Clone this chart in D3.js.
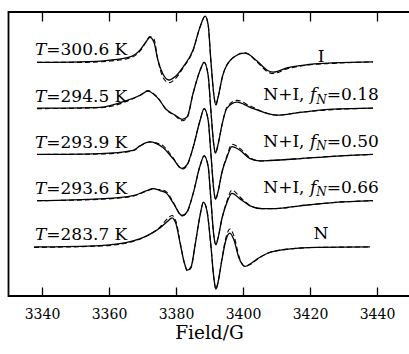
<!DOCTYPE html>
<html>
<head>
<meta charset="utf-8">
<script src="https://cdn.jsdelivr.net/npm/d3@7"></script>
<style>
  body { margin: 0; background: #fff; }
  text { font-family: "DejaVu Serif", serif; fill: #000; }
</style>
</head>
<body>
<div id="chart"></div>
<script>
// EPR spectra, [field (G), measured, simulated], baseline of each at 0
const specI = [
  [3338.5, -0.01, -0.01], [3351.3, 0.00, -0.01], [3360.3, 0.04, 0.02],
  [3366.3, 0.11, 0.09], [3369.3, 0.26, 0.24], [3371.0, 0.43, 0.43],
  [3372.2, 0.53, 0.55], [3373.4, 0.43, 0.50], [3374.6, 0.04, 0.04],
  [3376.1, -0.26, -0.33], [3377.9, -0.39, -0.45], [3379.7, -0.32, -0.37],
  [3382.1, -0.11, -0.13], [3385.1, 0.26, 0.25], [3387.2, 0.76, 0.76],
  [3388.7, 0.99, 0.99], [3389.6, 0.80, 0.80], [3390.4, 0.04, 0.04],
  [3391.3, -0.71, -0.71], [3391.9, -0.93, -0.93], [3392.5, -0.78, -0.78],
  [3394.0, -0.28, -0.28], [3397.0, 0.09, 0.09], [3400.6, 0.19, 0.20],
  [3404.2, 0.02, 0.00], [3407.5, -0.19, -0.22], [3409.0, -0.22, -0.25],
  [3413.1, -0.13, -0.15], [3419.1, -0.06, -0.07], [3426.9, -0.02, -0.03],
  [3438.8, 0.00, 0.00]
];
const spec18 = [
  [3338.5, 0.00, -0.01], [3357.3, 0.02, 0.01], [3365.4, 0.17, 0.15],
  [3369.3, 0.28, 0.28], [3371.6, 0.37, 0.38], [3374.3, 0.24, 0.25],
  [3377.3, -0.04, -0.05], [3379.7, -0.15, -0.16], [3381.8, -0.24, -0.27],
  [3383.3, -0.19, -0.21], [3385.1, 0.32, 0.32], [3387.2, 0.82, 0.82],
  [3388.4, 0.99, 0.99], [3389.6, 0.71, 0.71], [3390.4, -0.04, -0.04],
  [3391.3, -0.80, -0.80], [3391.8, -0.97, -0.97], [3392.5, -0.80, -0.80],
  [3393.7, -0.37, -0.37], [3395.2, 0.00, 0.02], [3398.2, 0.13, 0.17],
  [3402.1, 0.02, 0.05], [3407.2, -0.11, -0.11], [3410.1, -0.15, -0.15],
  [3417.0, -0.09, -0.09], [3426.9, -0.02, -0.03], [3438.8, 0.00, 0.00]
];
const spec50 = [
  [3338.5, 0.00, 0.00], [3357.3, 0.02, 0.01], [3367.2, 0.09, 0.08],
  [3369.3, 0.19, 0.18], [3372.2, 0.27, 0.27], [3374.0, 0.24, 0.25],
  [3376.1, 0.15, 0.19], [3379.1, -0.09, -0.07], [3381.8, -0.30, -0.32],
  [3383.3, -0.22, -0.24], [3385.1, 0.15, 0.15], [3387.2, 0.74, 0.74],
  [3388.4, 0.99, 0.99], [3389.6, 0.74, 0.74], [3390.4, 0.04, 0.04],
  [3391.3, -0.78, -0.78], [3391.8, -0.97, -0.97], [3392.5, -0.82, -0.82],
  [3393.7, -0.39, -0.39], [3395.2, -0.06, -0.03], [3396.7, 0.17, 0.22],
  [3399.1, 0.09, 0.13], [3402.1, -0.09, -0.07], [3405.1, -0.14, -0.14],
  [3408.1, -0.13, -0.13], [3417.0, -0.09, -0.09], [3426.9, -0.04, -0.04],
  [3438.8, 0.00, 0.00]
];
const spec66 = [
  [3338.5, 0.00, 0.00], [3357.3, 0.04, 0.03], [3367.2, 0.11, 0.10],
  [3371.3, 0.22, 0.21], [3373.1, 0.26, 0.25], [3375.2, 0.22, 0.24],
  [3377.0, 0.17, 0.20], [3379.1, -0.04, -0.02], [3381.8, -0.32, -0.33],
  [3383.3, -0.24, -0.25], [3385.1, 0.15, 0.15], [3387.2, 0.76, 0.76],
  [3388.4, 0.97, 0.97], [3389.6, 0.74, 0.74], [3390.4, 0.04, 0.04],
  [3391.3, -0.76, -0.76], [3391.9, -0.95, -0.95], [3392.5, -0.82, -0.82],
  [3393.7, -0.39, -0.39], [3395.2, -0.04, -0.01], [3396.7, 0.16, 0.23],
  [3399.1, 0.04, 0.08], [3402.1, -0.11, -0.10], [3405.7, -0.17, -0.17],
  [3409.6, -0.17, -0.17], [3417.0, -0.11, -0.11], [3426.9, -0.04, -0.04],
  [3438.8, 0.00, 0.00]
];
const specN = [
  [3337.6, 0.00, -0.01], [3357.3, 0.03, 0.02], [3367.2, 0.13, 0.12],
  [3371.3, 0.24, 0.24], [3375.2, 0.41, 0.43], [3377.6, 0.56, 0.62],
  [3378.8, 0.63, 0.68], [3380.0, 0.50, 0.55], [3381.2, 0.09, 0.12],
  [3382.4, -0.32, -0.32], [3383.4, -0.50, -0.52], [3384.5, -0.43, -0.45],
  [3385.7, 0.04, 0.04], [3387.2, 0.69, 0.69], [3388.2, 0.97, 0.97],
  [3389.3, 0.76, 0.76], [3390.4, 0.04, 0.04], [3391.3, -0.67, -0.67],
  [3391.9, -0.91, -0.91], [3392.5, -0.78, -0.78], [3393.7, -0.28, -0.26],
  [3394.9, 0.15, 0.20], [3396.1, 0.30, 0.39], [3397.3, 0.15, 0.24],
  [3398.8, -0.24, -0.20], [3400.6, -0.42, -0.42], [3402.1, -0.37, -0.38],
  [3404.2, -0.26, -0.27], [3407.5, -0.13, -0.13], [3411.9, -0.06, -0.06],
  [3422.1, -0.01, -0.01], [3437.9, 0.00, 0.00]
];

const spectra = [specI, spec18, spec50, spec66, specN];
const offsets = [4, 3, 2, 1, 0];
const temps = ["300.6", "294.5", "293.9", "293.6", "283.7"];
const fractions = [null, "0.18", "0.50", "0.66", null];
const phases = ["I", "N+I", "N+I", "N+I", "N"];
const fieldTicks = [3340, 3360, 3380, 3400, 3420, 3440];

const width = 409, height = 354;
const frame = { left: 8.5, top: 12, bottom: 296, right: 410.5 };

const svg = d3.select("#chart")
  .append("svg")
  .attr("width", width)
  .attr("height", height);

const x = d3.scaleLinear().domain([3330, 3450]).range([frame.left, frame.right]);
const y = d3.scaleLinear().domain([-1.06, 5.08]).range([frame.bottom, frame.top]);

// frame
svg.append("path")
  .attr("d", `M${frame.right},${frame.top}H${frame.left}V${frame.bottom}H${frame.right}`)
  .attr("fill", "none")
  .attr("stroke", "#000")
  .attr("stroke-width", 1.8);

// inward ticks bottom and top
const bottomAxis = svg.append("g")
  .attr("transform", `translate(0,${frame.bottom})`)
  .call(d3.axisBottom(x).tickValues(fieldTicks).tickSize(-8.5).tickPadding(13).tickFormat(d3.format("d")));
const topAxis = svg.append("g")
  .attr("transform", `translate(0,${frame.top})`)
  .call(d3.axisTop(x).tickValues(fieldTicks).tickSize(-9.5).tickFormat(""));

[bottomAxis, topAxis].forEach(g => {
  g.select(".domain").remove();
  g.selectAll(".tick line").attr("stroke", "#000").attr("stroke-width", 1.3);
});
bottomAxis.selectAll(".tick text")
  .attr("font-family", "DejaVu Serif")
  .attr("font-size", 14)
  .attr("fill", "#000")
  .attr("dy", "0.71em");

svg.append("text")
  .attr("x", x(3390))
  .attr("y", 339)
  .attr("text-anchor", "middle")
  .attr("font-size", 18.5)
  .text("Field/G");

const lineOf = (k, col) => d3.line()
  .x(d => x(d[0]))
  .y(d => y(offsets[k] + d[col]))
  .curve(d3.curveMonotoneX);

spectra.forEach((spec, k) => {
  svg.append("path")
    .datum(spec)
    .attr("d", lineOf(k, 2))
    .attr("fill", "none")
    .attr("stroke", "#000")
    .attr("stroke-width", 1.1)
    .attr("stroke-dasharray", "5,3");
  svg.append("path")
    .datum(spec)
    .attr("d", lineOf(k, 1))
    .attr("fill", "none")
    .attr("stroke", "#000")
    .attr("stroke-width", 1.3);
});

// temperature labels on the left
temps.forEach((t, k) => {
  const label = svg.append("text")
    .attr("x", x(3337.9))
    .attr("y", y(offsets[k] + 0.14))
    .attr("font-size", 17);
  label.append("tspan").attr("font-style", "italic").text("T");
  label.append("tspan").text("=" + t + " K");
});

// phase labels on the right
phases.forEach((p, k) => {
  const label = svg.append("text")
    .attr("x", x(3423.3))
    .attr("y", y(offsets[k] + (k === 0 ? 0.0 : 0.17)))
    .attr("text-anchor", "middle")
    .attr("font-size", 17);
  if (fractions[k] === null) {
    label.text(p);
  } else {
    label.append("tspan").text(p + ", ");
    label.append("tspan").attr("font-style", "italic").text("f");
    label.append("tspan").attr("font-style", "italic").attr("font-size", 12)
      .attr("dy", 3.5).text("N");
    label.append("tspan").attr("dy", -3.5).text("=" + fractions[k]);
  }
});
</script>
</body>
</html>
